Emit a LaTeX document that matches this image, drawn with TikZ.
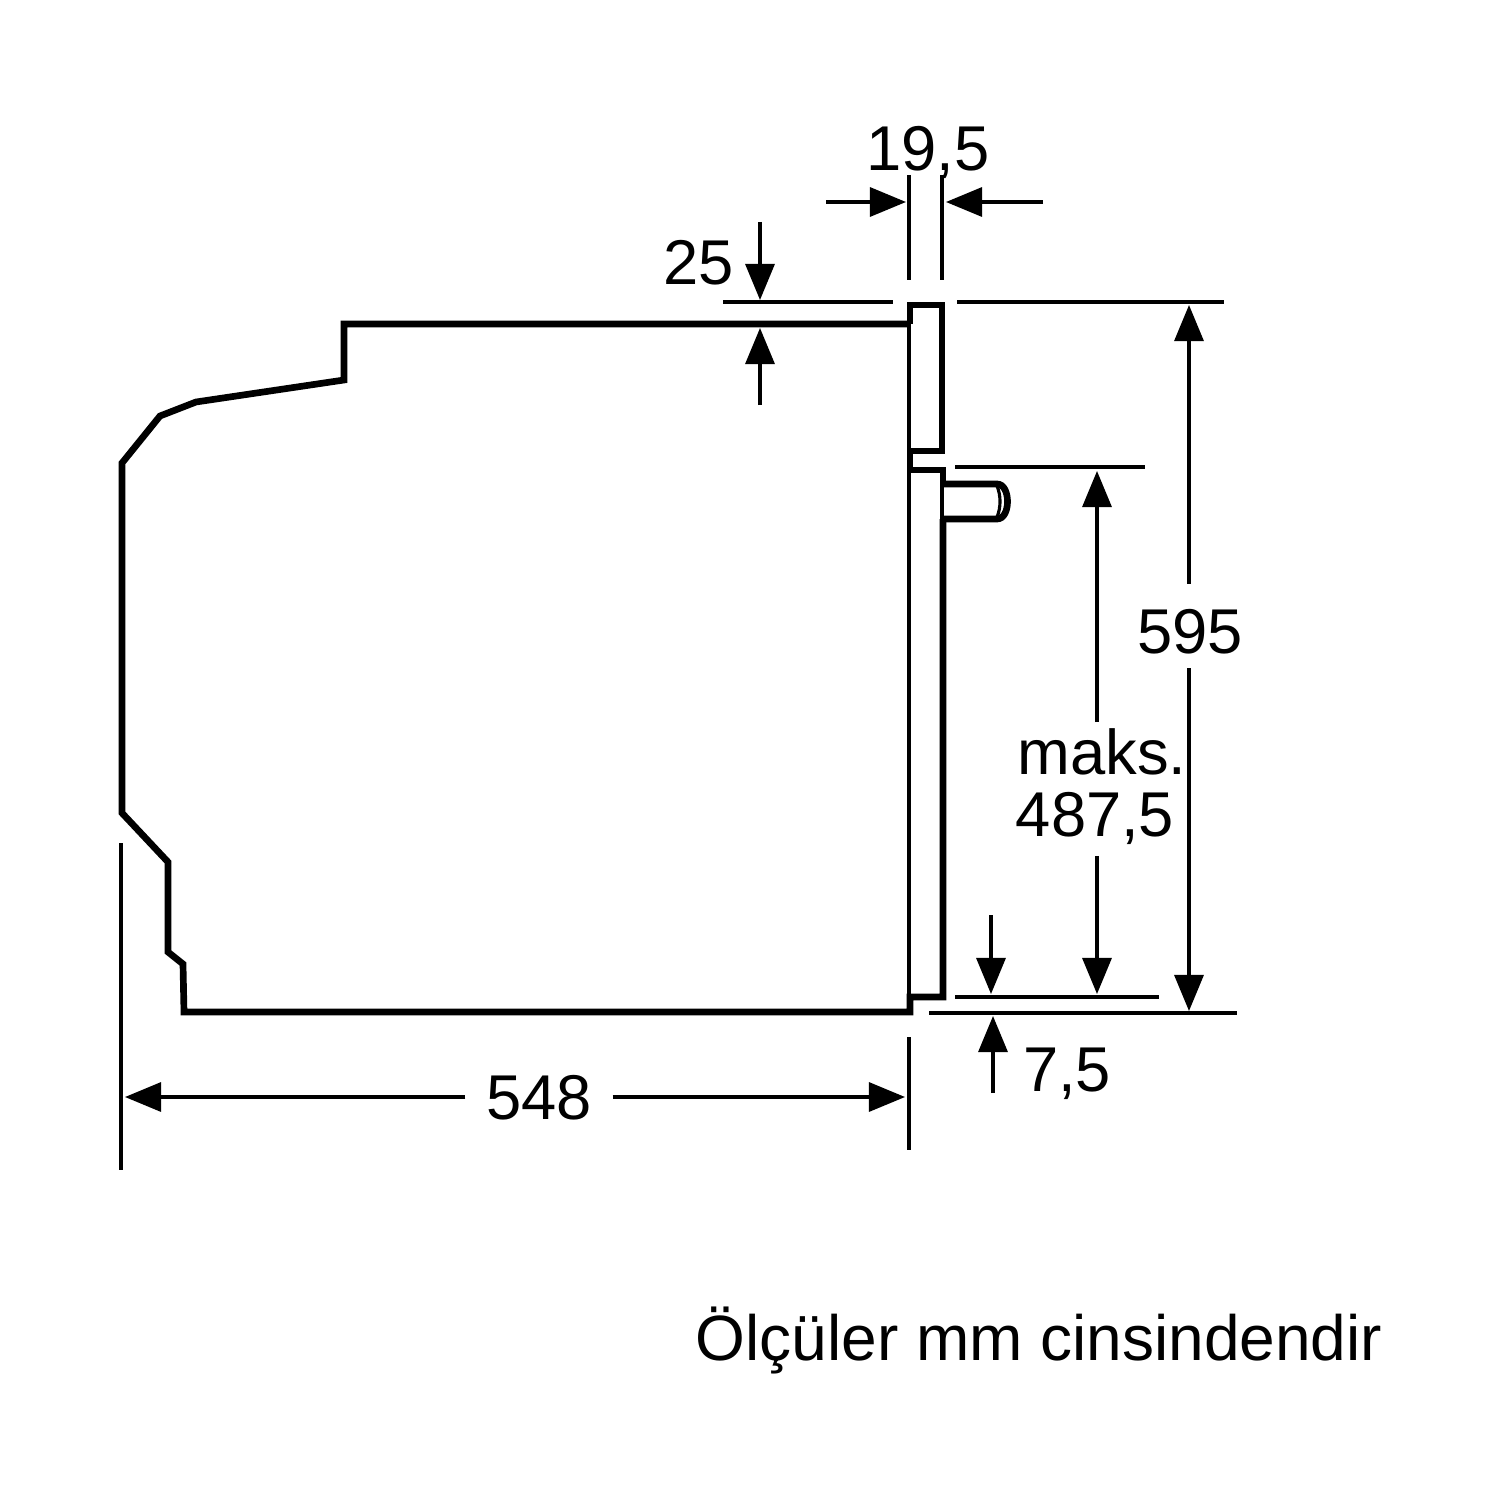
\documentclass[tikz,border=0pt]{standalone}
\usepackage{fontspec}
\setmainfont{Liberation Sans}
\usetikzlibrary{arrows.meta}
\tikzstyle{outline} = [line width=1.9pt,line join=miter]
\tikzstyle{doorline} = [line width=1.2pt]
\tikzstyle{extline} = [line width=0.9pt]
\tikzstyle{arrow} = [line width=0.9pt,-{Triangle[length=0.36cm,width=0.29cm]}]
\tikzstyle{dimtext} = [font=\fontsize{18}{20}\selectfont,inner sep=0.2cm]
\begin{document}
\begin{tikzpicture}[x=0.01cm,y=-0.01cm]
            \useasboundingbox (0,0) rectangle (1500,1497);
            \draw[outline] (908,324) -- (344,324) -- (344,380) -- (196,402) -- (160,416)
                -- (122,463) -- (122,813) -- (168,862) -- (168,952) -- (183,964)
                -- (184,1012) -- (910,1012) -- (910,997) -- (943,997) -- (943,519);
            \draw[outline] (943,484) -- (943,470) -- (910,470) -- (910,451) -- (942,451)
                -- (942,305) -- (910,305) -- (910,324);
            \draw[doorline] (909,305) -- (909,451);
            \draw[doorline] (909,470) -- (909,997);
            \draw[extline] (942,484) -- (942,519);
            \draw[outline] (943,484) -- (997,484) .. controls (1011,484) and (1011,519) .. (997,519) -- (943,519);
            \draw[extline] (997,486) .. controls (1001,495) and (1001,508) .. (997,517);

            \node[dimtext] (t195) at (928,152) {19,5};
            \node[dimtext] (t25) at (699,263) {25};
            \node[dimtext] (t595) at (1190,632) {595};
            \node[dimtext] (tmaks) at (1102,752) {maks.};
            \node[dimtext] (t4875) at (1095,818) {487,5};
            \node[dimtext] (t75) at (1067,1074) {7,5};
            \node[dimtext] (t548) at (539,1098) {548};
            \node[dimtext,font=\fontsize{18.2}{20}\selectfont] (tnote) at (1039,1340) {Ölçüler mm cinsindendir};

            \coordinate (w1) at (909,175);
            \coordinate (w2) at (909,280);
            \coordinate (w3) at (942,175);
            \coordinate (w4) at (942,280);
            \draw[extline] (w1) -- (w2);
            \draw[extline] (w3) -- (w4);
            \coordinate (wa) at (826,202);
            \coordinate (wb) at (906,202);
            \coordinate (wc) at (1043,202);
            \coordinate (wd) at (946,202);
            \draw[arrow] (wa) -- (wb);
            \draw[arrow] (wc) -- (wd);

            \coordinate (top1) at (723,302);
            \coordinate (top2) at (893,302);
            \coordinate (top3) at (957,302);
            \coordinate (top4) at (1224,302);
            \draw[extline] (top1) -- (top2);
            \draw[extline] (top3) -- (top4);
            \coordinate (ta) at (760,222);
            \coordinate (tb) at (760,300);
            \coordinate (tc) at (760,405);
            \coordinate (td) at (760,328);
            \draw[arrow] (ta) -- (tb);
            \draw[arrow] (tc) -- (td);

            \coordinate (knob1) at (955,467);
            \coordinate (knob2) at (1145,467);
            \draw[extline] (knob1) -- (knob2);
            \coordinate (low1) at (955,997);
            \coordinate (low2) at (1159,997);
            \draw[extline] (low1) -- (low2);
            \coordinate (base1) at (929,1013);
            \coordinate (base2) at (1237,1013);
            \draw[extline] (base1) -- (base2);

            \coordinate (ha) at (1189,305);
            \coordinate (hb) at (1189,1011);
            \draw[arrow] ([yshift=0.05cm]t595.north -| ha) -- (ha);
            \draw[arrow] ([yshift=0.07cm]t595.south -| hb) -- (hb);
            \coordinate (ma) at (1097,471);
            \coordinate (mb) at (1097,994);
            \draw[arrow] ([yshift=-0.14cm]tmaks.north -| ma) -- (ma);
            \draw[arrow] ([yshift=0.09cm]t4875.south -| mb) -- (mb);

            \coordinate (sa) at (991,915);
            \coordinate (sb) at (991,994);
            \coordinate (sc) at (993,1093);
            \coordinate (sd) at (993,1016);
            \draw[arrow] (sa) -- (sb);
            \draw[arrow] (sc) -- (sd);

            \coordinate (d1) at (909,1037);
            \coordinate (d2) at (909,1150);
            \coordinate (d3) at (121,843);
            \coordinate (d4) at (121,1170);
            \draw[extline] (d1) -- (d2);
            \draw[extline] (d3) -- (d4);
            \coordinate (da) at (125,1097);
            \coordinate (db) at (905,1097);
            \draw[arrow] (t548.west |- da) -- (da);
            \draw[arrow] (t548.east |- db) -- (db);
        \end{tikzpicture}
\end{document}
